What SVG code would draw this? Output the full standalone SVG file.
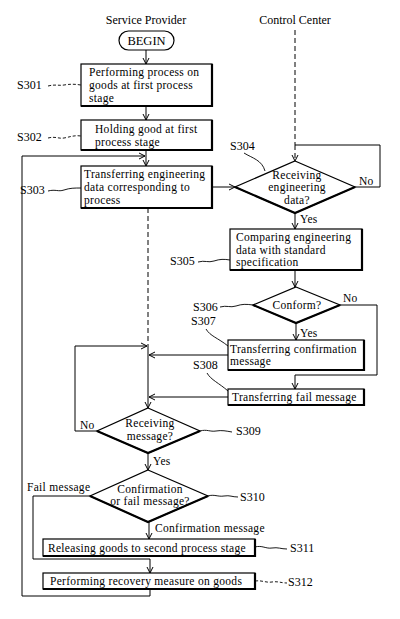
<svg xmlns="http://www.w3.org/2000/svg" width="400" height="619" viewBox="0 0 400 619">
<defs>
<style>
text{font-family:"Liberation Serif","Times New Roman",serif;font-size:12px;fill:#000}
.t{font-size:11.5px;letter-spacing:0.3px}
.c{text-anchor:middle}
.box{fill:#fff;stroke:#000;stroke-width:1.2}
.sh{fill:none;stroke:#000;stroke-width:2.2}
.ln{fill:none;stroke:#000;stroke-width:1}
.dash{fill:none;stroke:#000;stroke-width:1;stroke-dasharray:5,3}
.ld{fill:none;stroke:#000;stroke-width:0.9}
.ldd{fill:none;stroke:#000;stroke-width:0.9;stroke-dasharray:3,2}
</style>
<marker id="ah" markerWidth="8" markerHeight="8" refX="7" refY="4" orient="auto" markerUnits="userSpaceOnUse">
<path d="M1,1 L7,4 L1,7" fill="none" stroke="#000" stroke-width="1"/>
</marker>
</defs>
<rect width="400" height="619" fill="#fff"/>

<g id="headers">
<text class="c" x="146" y="24">Service Provider</text>
<text class="c" x="295" y="24">Control Center</text>
</g>

<g id="connectors">
<path class="dash" d="M295,30 V145"/>
<path class="dash" d="M295,145 V161" marker-end="url(#ah)"/>
<path class="ln" d="M146,50 V64" marker-end="url(#ah)"/>
<path class="ln" d="M146,106 V120" marker-end="url(#ah)"/>
<path class="ln" d="M146,150 V166" marker-end="url(#ah)"/>
<path class="ln" d="M150,590 V596 H22 V156 H145" marker-end="url(#ah)"/>
<path class="ln" d="M212,187 H235" marker-end="url(#ah)"/>
<path class="ln" d="M355,187 H380 V145 H295"/>
<path class="ln" d="M295,213 V229" marker-end="url(#ah)"/>
<path class="ln" d="M295,270 V287" marker-end="url(#ah)"/>
<path class="ln" d="M340,305 H377 V375 H295 V389" marker-end="url(#ah)"/>
<path class="ln" d="M296,323 V340" marker-end="url(#ah)"/>
<path class="dash" d="M148,208 V346"/>
<path class="ln" d="M228,355 H149" marker-end="url(#ah)"/>
<path class="ln" d="M228,397 H149" marker-end="url(#ah)"/>
<path class="ln" d="M97,431 H75 V346 H147" marker-end="url(#ah)"/>
<path class="ln" d="M148,346 V408" marker-end="url(#ah)"/>
<path class="ln" d="M148,453 V470" marker-end="url(#ah)"/>
<path class="ln" d="M90,496 H33 V559 H150 V573" marker-end="url(#ah)"/>
<path class="ln" d="M149,522 V539" marker-end="url(#ah)"/>
</g>

<g id="begin">
<rect class="box" x="119" y="31" width="55" height="19" rx="9.5"/>
<text class="c" x="146.5" y="45" style="font-size:12.5px">BEGIN</text>
</g>

<g id="S301">
<rect class="box" x="81" y="64" width="131" height="42"/>
<path class="sh" d="M212,64 V106 H81"/>
<text class="t" x="89" y="76.3">Performing process on<tspan x="89" dy="12.8">goods at first process</tspan><tspan x="89" dy="12.8">stage</tspan></text>
<text x="17" y="89">S301</text>
<path class="ldd" d="M48,86 C56,84 58,86 64,85 S74,84 81,85"/>
</g>

<g id="S302">
<rect class="box" x="81" y="120" width="131" height="30"/>
<path class="sh" d="M212,120 V150 H81"/>
<text class="t" x="95" y="133">Holding good at first<tspan x="95" dy="12.8">process stage</tspan></text>
<text x="17" y="141">S302</text>
<path class="ldd" d="M48,138 C56,136 58,139 64,138 S74,135 81,136"/>
</g>

<g id="S303">
<rect class="box" x="81" y="166" width="131" height="42"/>
<path class="sh" d="M212,166 V208 H81"/>
<text class="t" x="84" y="178">Transferring engineering<tspan x="84" dy="12.8">data corresponding to</tspan><tspan x="84" dy="12.8">process</tspan></text>
<text x="20" y="194">S303</text>
<path class="ld" d="M48,191 C56,189 58,192 64,190 S74,188 81,188"/>
</g>

<g id="S304">
<path class="box" d="M295,161 L355,187 L295,213 L235,187 Z"/>
<path class="sh" d="M235,187 L295,213 L355,187"/>
<text class="c t" x="297" y="178.5">Receiving<tspan x="297" dy="12.8">engineering</tspan><tspan x="297" dy="12.8">data?</tspan></text>
<text x="230" y="150">S304</text>
<path class="ld" d="M244,153 C252,158 262,160 265,171"/>
<text class="t" x="359" y="185">No</text>
<text class="t" x="300" y="223">Yes</text>
</g>

<g id="S305">
<rect class="box" x="230" y="229" width="132" height="41"/>
<path class="sh" d="M362,229 V270 H230"/>
<text class="t" x="236" y="240.8">Comparing engineering<tspan x="236" dy="12.8">data with standard</tspan><tspan x="236" dy="12.8">specification</tspan></text>
<text x="170" y="265">S305</text>
<path class="ld" d="M198,262 C205,260 208,263 214,261 S224,259 230,260"/>
</g>

<g id="S306">
<path class="box" d="M296,287 L340,305 L296,323 L253,305 Z"/>
<path class="sh" d="M253,305 L296,323 L340,305"/>
<text class="c t" x="297" y="309">Conform?</text>
<text x="193" y="311">S306</text>
<path class="ld" d="M220,307 C227,305 230,308 236,306 S246,304 253,305"/>
<text class="t" x="343" y="302">No</text>
<text class="t" x="300" y="337">Yes</text>
</g>

<g id="S307">
<rect class="box" x="228" y="340" width="136" height="30"/>
<path class="sh" d="M364,340 V370 H228"/>
<text class="t" x="230" y="352.5">Transferring confirmation<tspan x="230" dy="12.8">message</tspan></text>
<text x="191" y="325">S307</text>
<path class="ld" d="M206,329 C210,336 218,338 228,346"/>
</g>

<g id="S308">
<rect class="box" x="228" y="389" width="136" height="16"/>
<path class="sh" d="M364,389 V405 H228"/>
<text class="t" x="232" y="401">Transferring fail message</text>
<text x="193" y="369">S308</text>
<path class="ld" d="M207,373 C211,380 219,383 228,391"/>
</g>

<g id="S309">
<path class="box" d="M148,408 L200,431 L148,453 L97,431 Z"/>
<path class="sh" d="M97,431 L148,453 L200,431"/>
<text class="c t" x="150" y="427">Receiving<tspan x="150" dy="13">message?</tspan></text>
<text class="t" x="80" y="429">No</text>
<text x="236" y="435">S309</text>
<path class="ld" d="M200,431 C207,429 210,432 216,431 S226,431 232,432"/>
<text class="t" x="153" y="465">Yes</text>
</g>

<g id="S310">
<path class="box" d="M148,470 L208,496 L148,522 L90,496 Z"/>
<path class="sh" d="M90,496 L148,522 L208,496"/>
<text class="c t" x="150" y="492.5">Confirmation<tspan x="150" dy="12.8">or fail message?</tspan></text>
<text class="t" x="27" y="491">Fail message</text>
<text x="240" y="501">S310</text>
<path class="ld" d="M208,496 C214,494 218,497 224,496 S232,497 238,497"/>
<text class="t" x="155" y="532">Confirmation message</text>
</g>

<g id="S311">
<rect class="box" x="43" y="539" width="212" height="17"/>
<path class="sh" d="M255,539 V556 H43"/>
<text class="t" x="48" y="552">Releasing goods to second process stage</text>
<text x="290" y="552">S311</text>
<path class="ld" d="M255,547 C262,545 266,549 272,548 S281,549 287,549"/>
</g>

<g id="S312">
<rect class="box" x="43" y="573" width="212" height="16"/>
<path class="sh" d="M255,573 V589 H43"/>
<text class="t" x="50" y="585">Performing recovery measure on goods</text>
<text x="288" y="586">S312</text>
<path class="ldd" d="M255,581 C262,580 266,583 272,582 S281,583 287,583"/>
</g>
</svg>
